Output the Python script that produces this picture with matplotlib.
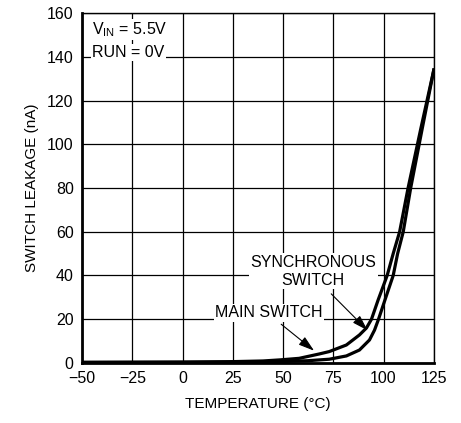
import numpy as np
import matplotlib
matplotlib.use('Agg')
import matplotlib.pyplot as plt

plt.rcParams['font.family'] = ['Liberation Sans Narrow', 'Liberation Sans', 'DejaVu Sans']

# Values
main_t = [-50, 0, 25, 40, 48.5, 58, 68, 73, 81.5, 88, 91.5, 94, 97.3, 101.8, 104.8, 108, 112.2, 118.5, 125]
main_i = [0.3, 0.4, 0.6, 0.9, 1.4, 2.1, 4.1, 5.2, 8.2, 12.8, 16, 20, 28.8, 40, 50, 60, 80, 107, 134]
sync_t = [-50, 0, 25, 48.5, 62, 73, 81.5, 88, 93, 95.5, 97.5, 100.7, 104.8, 107, 109.8, 113.5, 119.2, 125]
sync_i = [0.2, 0.3, 0.35, 0.6, 1.0, 1.7, 3.2, 5.9, 10.5, 15, 20, 28.8, 40, 50, 60, 80, 107, 134]

xticks = [-50, -25, 0, 25, 50, 75, 100, 125]
yticks = [0, 20, 40, 60, 80, 100, 120, 140, 160]

fig = plt.figure(figsize=(4.61, 4.23), dpi=100)
ax = fig.add_axes([0.178, 0.142, 0.763, 0.827])

ax.plot(main_t, main_i, color='black', linewidth=2.3, solid_joinstyle='round', zorder=3)
ax.plot(sync_t, sync_i, color='black', linewidth=2.3, solid_joinstyle='round', zorder=3)

ax.set_xlim(-50, 125)
ax.set_ylim(0, 160)
ax.set_xticks(xticks)
ax.set_yticks(yticks)
ax.set_xticklabels([str(t).replace('-', '\u2212') for t in xticks])
ax.grid(True, color='black', linewidth=0.9)
ax.set_axisbelow(True)
ax.tick_params(length=0, labelsize=11.5, pad=6)

for s in ['top', 'right']:
    ax.spines[s].set_linewidth(1.0)
ax.spines['left'].set_linewidth(2.0)
ax.spines['bottom'].set_linewidth(2.0)

ax.set_xlabel('TEMPERATURE (\u00b0C)', fontsize=11, labelpad=8)
ax.set_ylabel('SWITCH LEAKAGE (nA)', fontsize=11, labelpad=6)

box = dict(facecolor='white', edgecolor='none', pad=1)
ax.text(-45, 152.5, r'V$_\mathregular{IN}$ = 5.5V', fontsize=11.5, va='center', ha='left', bbox=box)
ax.text(-45, 142, 'RUN = 0V', fontsize=11.5, va='center', ha='left', bbox=box)

ax.text(65, 42, 'SYNCHRONOUS\nSWITCH', fontsize=11.5, ha='center', va='center',
        linespacing=1.25, bbox=box, zorder=4)
ax.text(43, 23, 'MAIN SWITCH', fontsize=11.5, ha='center', va='center', bbox=box, zorder=4)

arrow = dict(arrowstyle='-|>,head_length=0.8,head_width=0.25', color='black',
             linewidth=0.8, mutation_scale=12)
ax.annotate('', xy=(66.5, 4.8), xytext=(48, 18.5), arrowprops=arrow, zorder=5)
ax.annotate('', xy=(93, 14), xytext=(73, 32.5), arrowprops=arrow, zorder=5)

fig.savefig('out.png', dpi=100)
